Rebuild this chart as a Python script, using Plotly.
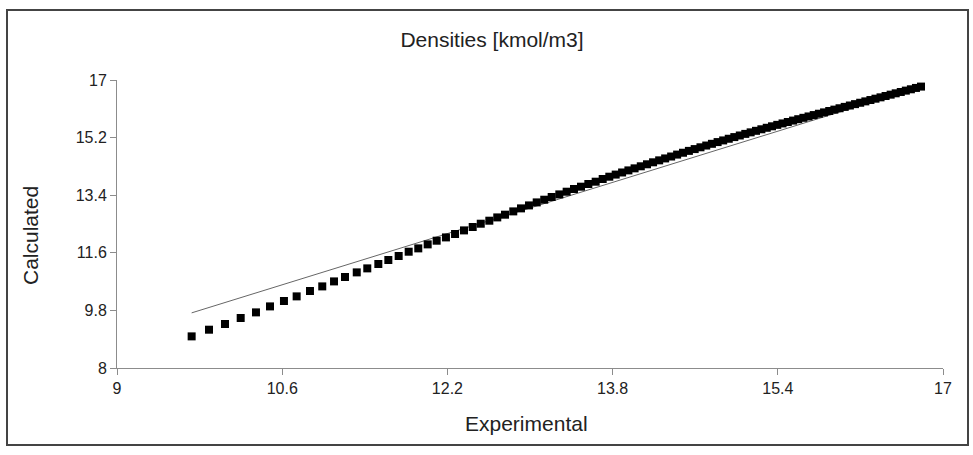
import plotly.graph_objects as go

# Data
experimental = [
    9.723, 9.891, 10.046, 10.198, 10.346, 10.482, 10.617, 10.740, 10.869, 10.988,
    11.102, 11.208, 11.322, 11.424, 11.531, 11.628, 11.728, 11.825, 11.918, 12.009,
    12.096, 12.186, 12.274, 12.361, 12.445, 12.523, 12.606, 12.683, 12.758, 12.838,
    12.913, 12.990, 13.065, 13.138, 13.210, 13.284, 13.355, 13.426, 13.494, 13.565,
    13.636, 13.704, 13.768, 13.830, 13.892, 13.953, 14.013, 14.073, 14.133, 14.192,
    14.251, 14.309, 14.367, 14.425, 14.482, 14.539, 14.595, 14.651, 14.707, 14.762,
    14.817, 14.871, 14.925, 14.979, 15.032, 15.085, 15.137, 15.189, 15.241, 15.293,
    15.344, 15.395, 15.446, 15.497, 15.548, 15.598, 15.648, 15.698, 15.748, 15.798,
    15.848, 15.898, 15.948, 15.998, 16.048, 16.098, 16.148, 16.198, 16.248, 16.297,
    16.346, 16.395, 16.444, 16.493, 16.542, 16.591, 16.640, 16.689, 16.738, 16.787,
]
calculated = [
    8.988, 9.197, 9.375, 9.563, 9.738, 9.925, 10.094, 10.238, 10.406, 10.550,
    10.706, 10.844, 10.988, 11.113, 11.250, 11.375, 11.500, 11.634, 11.738, 11.863,
    11.978, 12.081, 12.188, 12.300, 12.406, 12.509, 12.603, 12.706, 12.791, 12.894,
    12.988, 13.081, 13.175, 13.259, 13.344, 13.425, 13.509, 13.594, 13.666, 13.750,
    13.822, 13.906, 13.978, 14.044, 14.110, 14.175, 14.239, 14.303, 14.366, 14.428,
    14.489, 14.549, 14.609, 14.669, 14.727, 14.785, 14.841, 14.897, 14.952, 15.006,
    15.060, 15.112, 15.164, 15.216, 15.266, 15.316, 15.364, 15.412, 15.460, 15.507,
    15.553, 15.598, 15.643, 15.688, 15.732, 15.775, 15.818, 15.861, 15.904, 15.946,
    15.988, 16.031, 16.074, 16.117, 16.160, 16.203, 16.246, 16.289, 16.332, 16.374,
    16.416, 16.458, 16.500, 16.542, 16.584, 16.626, 16.668, 16.710, 16.752, 16.794,
]
parity_x = [9.723, 16.787]
parity_y = [9.723, 16.787]

x_ticks = [9, 10.6, 12.2, 13.8, 15.4, 17]
y_ticks = [8, 9.8, 11.6, 13.4, 15.2, 17]

title_text = "Densities [kmol/m3]"
x_title = "Experimental"
y_title = "Calculated"

FONT = "Liberation Sans, Arial, sans-serif"
W, H = 973, 455
ML, MR, MT, MB = 117, 30, 80, 87
PW, PH = W - ML - MR, H - MT - MB


def px_to_paper_x(px):
    return (px - ML) / PW


def py_to_paper_y(py):
    return (H - MB - py) / PH


fig = go.Figure()
fig.add_trace(go.Scatter(
    x=parity_x, y=parity_y, mode="lines",
    line=dict(color="#666666", width=1), showlegend=False, hoverinfo="skip",
))
fig.add_trace(go.Scatter(
    x=experimental, y=calculated, mode="markers",
    marker=dict(symbol="square", size=8, color="black", line=dict(width=0)),
    showlegend=False,
))

axis_common = dict(
    showgrid=False, zeroline=False, showline=True,
    linecolor="#8c8c8c", linewidth=1,
    ticks="outside", ticklen=6, tickcolor="#8c8c8c",
    tickfont=dict(family=FONT, size=16, color="#222222"),
)

title_font = dict(family=FONT, size=21, color="#222222")

fig.update_layout(
    width=W, height=H,
    margin=dict(l=ML, r=MR, t=MT, b=MB),
    paper_bgcolor="white", plot_bgcolor="white",
    title=dict(
        text=title_text, x=492 / W, xref="container",
        y=1 - 40 / H, yref="container", xanchor="center", yanchor="middle",
        font=title_font,
    ),
    xaxis=dict(range=[9, 17], tickvals=x_ticks,
               ticktext=[f"{v:g}" for v in x_ticks], **axis_common),
    yaxis=dict(range=[8, 17], tickvals=y_ticks,
               ticktext=[f"{v:g}" for v in y_ticks], **axis_common),
    annotations=[
        dict(text=x_title, xref="paper", yref="paper",
             x=px_to_paper_x(526), y=py_to_paper_y(423),
             xanchor="center", yanchor="middle", showarrow=False, font=title_font),
        dict(text=y_title, xref="paper", yref="paper", textangle=-90,
             x=px_to_paper_x(30), y=py_to_paper_y(236),
             xanchor="center", yanchor="middle", showarrow=False, font=title_font),
    ],
    shapes=[dict(
        type="rect", xref="paper", yref="paper",
        x0=px_to_paper_x(7), x1=px_to_paper_x(968),
        y0=py_to_paper_y(445), y1=py_to_paper_y(10),
        line=dict(color="#444444", width=2), fillcolor="rgba(0,0,0,0)",
        layer="below",
    )],
)

fig.write_html("out.html")
